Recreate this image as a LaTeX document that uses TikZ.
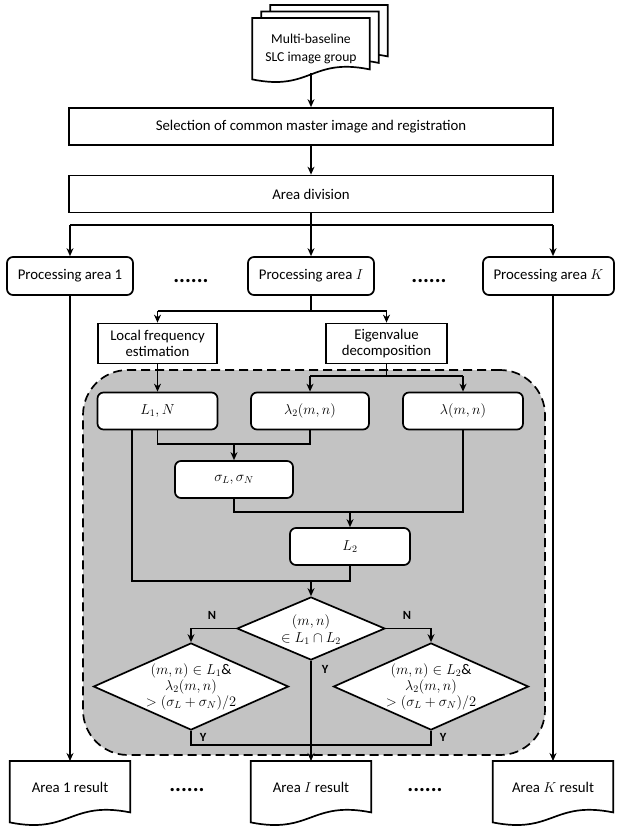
\documentclass[tikz,border=0pt]{standalone}
\usepackage{fontspec}
\setmainfont{Carlito}
\usetikzlibrary{shapes.geometric,arrows.meta,calc}
\definecolor{regiongray}{RGB}{195,195,195}
\newcommand{\docoutline}[1]{%
  \draw[line width=1.7pt, fill=white] ($(#1.south west)+(0,6)$) -- (#1.north west) -- (#1.north east) -- ($(#1.south east)+(0,-4)$)
    .. controls ($(#1.south)+(0,-16)$) and ($(#1.south)+(0,18)$) .. ($(#1.south west)+(0,6)$) -- cycle;}
\begin{document}
\begin{tikzpicture}[x=1pt,y=-1pt,
  line/.style={line width=1.7pt},
  arr/.style={line width=1.7pt, -{Stealth[length=8pt,width=7pt]}},
  box/.style={draw, line width=1.7pt, fill=white, inner sep=1pt, align=center, font=\fontsize{14.8}{16}\selectfont},
  rbox/.style={box, rounded corners=6pt},
  dia/.style={diamond, draw, line width=1.7pt, fill=white, inner sep=0pt},
  txt/.style={align=center, font=\fontsize{14.8}{16}\selectfont, inner sep=0pt},
  lbl/.style={font=\fontsize{12.5}{14}\selectfont\bfseries, inner sep=0pt},
  dots/.style={font=\fontsize{22}{22}\selectfont\bfseries, inner sep=0pt},
  docbox/.style={minimum width=117pt, minimum height=55pt, anchor=north, inner sep=0pt},
  resbox/.style={minimum width=120pt, minimum height=55pt, anchor=north, inner sep=0pt},
]
\useasboundingbox (0,0) rectangle (616,827);

% shaded dashed region
\node[draw, line width=1.7pt, dash pattern=on 9pt off 5pt, fill=regiongray, rounded corners=45pt,
      minimum width=462pt, minimum height=385pt, inner sep=0pt] (region) at (314,562.5) {};

% input document stack
\node[docbox] (docB2) at (329,5) {};
\node[docbox] (docB1) at (320,11.5) {};
\node[docbox] (docF) at (311,18) {};
\docoutline{docB2}
\docoutline{docB1}
\docoutline{docF}
\node[txt, font=\fontsize{13.6}{18.5}\selectfont] (docT) at (311,49) {Multi-baseline\\SLC image group};

% main boxes
\node[box, minimum width=484pt, minimum height=37pt] (sel) at (311,126.5) {Selection of common master image and registration};
\node[box, minimum width=484pt, minimum height=37pt] (div) at (311,194) {Area division};

\node[rbox, minimum width=126pt, minimum height=38pt] (p1) at (70,276) {Processing area 1};
\node[rbox, minimum width=126pt, minimum height=38pt] (pI) at (311,276) {Processing area $I$};
\node[rbox, minimum width=131pt, minimum height=38pt] (pK) at (548.5,276) {Processing area $K$};
\node[dots] (dt1) at (191,281) {......};
\node[dots] (dt2) at (429,281) {......};

\node[box, minimum width=119pt, minimum height=40pt] (lfe) at (157.5,343.5) {Local frequency\\estimation};
\node[box, minimum width=121pt, minimum height=40pt] (eig) at (386.5,343.5) {Eigenvalue\\decomposition};

\node[rbox, minimum width=120pt, minimum height=37pt] (L1N) at (157.5,411) {$L_1, N$};
\node[rbox, minimum width=118pt, minimum height=37pt] (lam2) at (310,411) {$\lambda_2(m,n)$};
\node[rbox, minimum width=120pt, minimum height=37pt] (lam) at (463,411) {$\lambda(m,n)$};
\node[rbox, minimum width=118pt, minimum height=37pt] (sig) at (234,479.5) {$\sigma_L,\sigma_N$};
\node[rbox, minimum width=120pt, minimum height=37pt] (L2) at (350,546.5) {$L_2$};

\node[dia, minimum width=148pt, minimum height=63pt] (dm) at (311,628.5) {};
\node[dia, minimum width=195pt, minimum height=87pt] (dl) at (191,686.5) {};
\node[dia, minimum width=195pt, minimum height=87pt] (dr) at (431,686.5) {};
\node[txt, font=\fontsize{14.8}{17}\selectfont] (dmT) at (311,630) {$(m,n)$\\$\in L_1\cap L_2$};
\node[txt] (dlT) at (dl) {$(m,n)\in L_1$\&\\$\lambda_2(m,n)$\\$>(\sigma_L+\sigma_N)/2$};
\node[txt] (drT) at (dr) {$(m,n)\in L_2$\&\\$\lambda_2(m,n)$\\$>(\sigma_L+\sigma_N)/2$};

% result documents
\node[resbox] (r1) at (70,761) {};
\node[resbox] (rI) at (311,761) {};
\node[resbox] (rK) at (553,761) {};
\docoutline{r1}
\docoutline{rI}
\docoutline{rK}
\node[txt] (r1T) at ($(r1)+(0,-1)$) {Area 1 result};
\node[txt] (rIT) at ($(rI)+(0,-1)$) {Area $I$ result};
\node[txt] (rKT) at ($(rK)+(0,-1)$) {Area $K$ result};
\node[dots] (dt3) at (187,790) {......};
\node[dots] (dt4) at (425,790) {......};

% connectors
\coordinate (kx) at (553,0);
\coordinate (c1) at (311,225);
\coordinate (c2) at (311,311);
\coordinate (c3) at (0,376);
\coordinate (c4) at (0,444);
\coordinate (c5) at (0,512);
\coordinate (c6) at (132,581);
\coordinate (c7) at (0,745);

\draw[arr] (docF.south) -- (sel.north);
\draw[arr] (sel.south) -- (div.north);
\draw[line] (div.south) -- (c1);
\draw[line] (c1 -| p1) -- (c1 -| kx);
\draw[arr] (c1 -| p1) -- (p1.north);
\draw[arr] (c1) -- (pI.north);
\draw[arr] (c1 -| kx) -- (kx |- pK.north);
\draw[arr] (p1.south) -- (r1.north);
\draw[arr] (kx |- pK.south) -- (rK.north);

\draw[line] (pI.south) -- (c2);
\draw[line] (c2 -| lfe) -- (c2 -| eig);
\draw[arr] (c2 -| lfe) -- (lfe.north);
\draw[arr] (c2 -| eig) -- (eig.north);
\draw[arr] (lfe.south) -- (L1N.north);
\draw[line] (eig.south) -- (eig.south |- c3);
\draw[line] (c3 -| lam2) -- (c3 -| lam);
\draw[arr] (c3 -| lam2) -- (lam2.north);
\draw[arr] (c3 -| lam) -- (lam.north);

\draw[line] (L1N.south) -- (L1N.south |- c4) -- (lam2.south |- c4) -- (lam2.south);
\draw[arr] (c4 -| sig) -- (sig.north);
\draw[line] (sig.south) -- (sig.south |- c5) -- (lam.south |- c5) -- (lam.south);
\draw[arr] (c5 -| L2) -- (L2.north);
\draw[line] (c6 |- L1N.south) -- (c6) -- (L2.south |- c6) -- (L2.south);
\draw[arr] (c6 -| dm) -- (dm.north);

\draw[arr] (dm.west) -| (dl.north);
\draw[arr] (dm.east) -| (dr.north);
\draw[arr] (dm.south) -- (rI.north);
\draw[line] (dl.south) -- (dl.south |- c7) -- (dr.south |- c7) -- (dr.south);

\node[lbl] (nL) at (212,615) {N};
\node[lbl] (nR) at (407,615) {N};
\node[lbl] (yC) at (325,669) {Y};
\node[lbl] (yL) at (203,737) {Y};
\node[lbl] (yR) at (443,737) {Y};
\end{tikzpicture}
\end{document}
